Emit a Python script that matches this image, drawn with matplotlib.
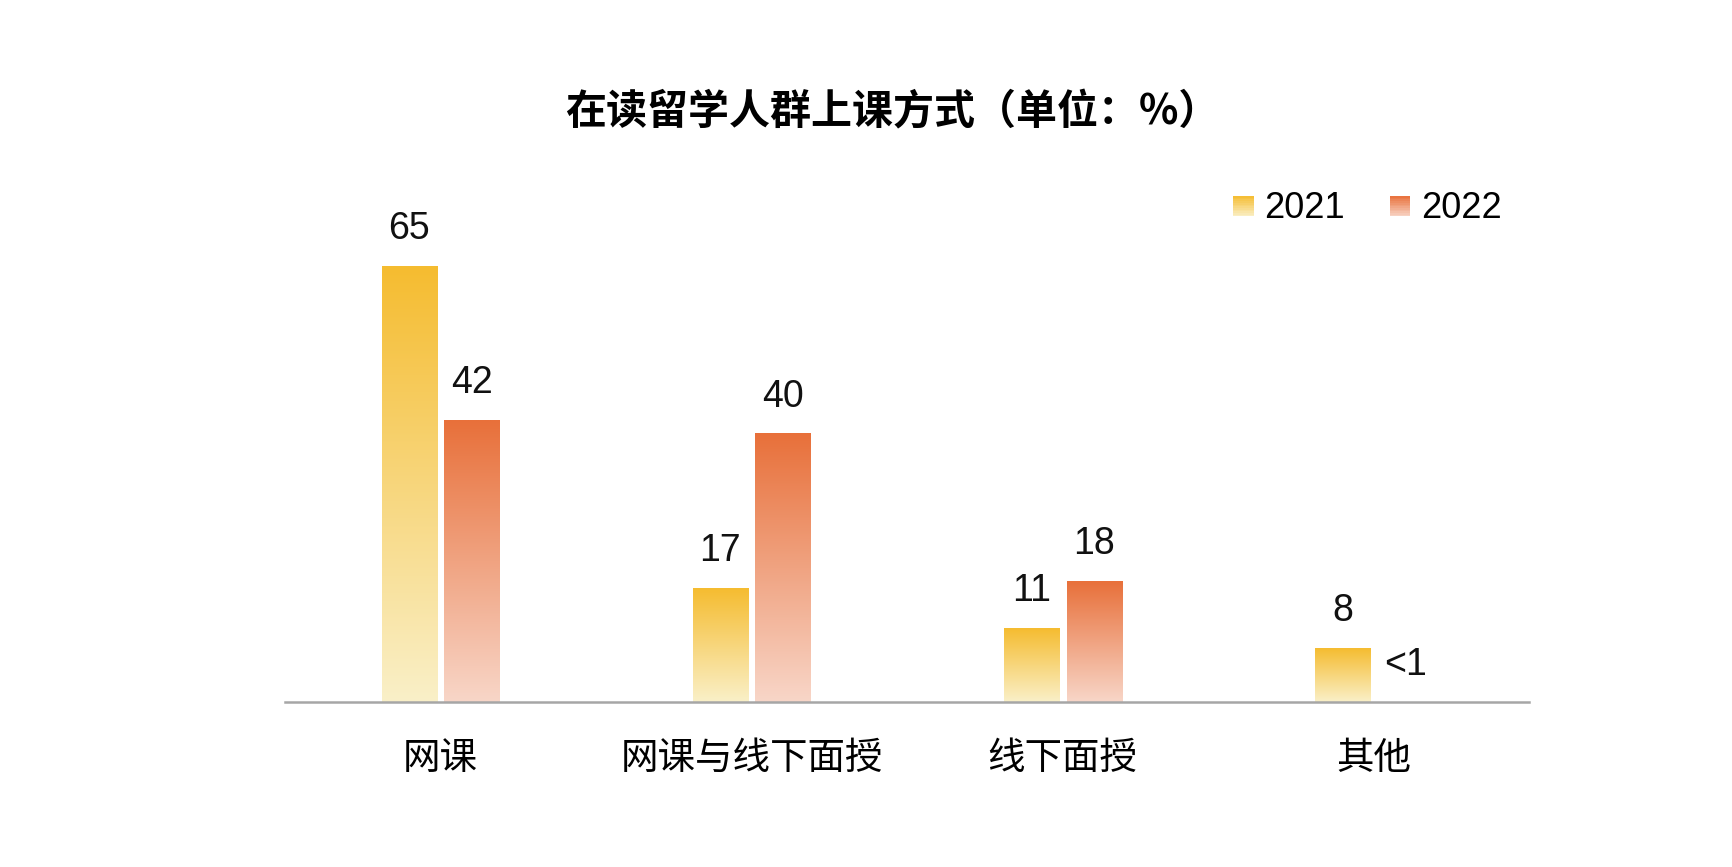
import matplotlib
matplotlib.use("Agg")
import matplotlib.pyplot as plt
import numpy as np
from matplotlib.colors import LinearSegmentedColormap
from matplotlib.patches import Rectangle
from matplotlib.legend_handler import HandlerPatch

plt.rcParams['font.family'] = ['Liberation Sans', 'Noto Sans CJK SC', 'DejaVu Sans']

categories = ['网课', '网课与线下面授', '线下面授', '其他']
series = ['2021', '2022']
values_2021 = [65, 17, 11, 8]
values_2022 = [42, 40, 18, 0]
labels_2021 = ['65', '17', '11', '8']
labels_2022 = ['42', '40', '18', '<1']

# top colour, bottom colour of each series' gradient
grad_colors = {
    '2021': ('#F5BC30', '#FAF0C8'),
    '2022': ('#E8703A', '#F8D6C8'),
}


class GradientHandler(HandlerPatch):
    def create_artists(self, legend, orig_handle, xdescent, ydescent,
                       width, height, fontsize, trans):
        top, bot = orig_handle.grad
        cmap = LinearSegmentedColormap.from_list('g', [bot, top])
        size = height * 0.8
        x0 = -xdescent + (width - size) / 2
        y0 = -ydescent + (height - size) / 2 - height * 0.05
        n = 12
        arts = []
        for i in range(n):
            r = Rectangle((x0, y0 + size * i / n), size, size / n + 0.3,
                          facecolor=cmap((i + 0.5) / n), edgecolor='none',
                          transform=trans)
            arts.append(r)
        return arts


fig = plt.figure(figsize=(17.32, 8.67), dpi=100)
ax = fig.add_axes([0.1645, 0.19, 0.7185, 0.6185])

x = np.arange(len(categories))
width = 0.177
offset = 0.101

handles = []
for name, vals, labs, off in [('2021', values_2021, labels_2021, -offset),
                              ('2022', values_2022, labels_2022, offset)]:
    top, bot = grad_colors[name]
    cmap = LinearSegmentedColormap.from_list(name, [bot, top])
    bars = ax.bar(x + off, vals, width, color='none', edgecolor='none')
    grad = np.linspace(0, 1, 256).reshape(-1, 1)
    for b, lab in zip(bars, labs):
        h = b.get_height()
        if h > 0:
            ax.imshow(grad, cmap=cmap, origin='lower', aspect='auto',
                      extent=[b.get_x(), b.get_x() + b.get_width(), 0, h],
                      zorder=2)
        ax.annotate(lab, (b.get_x() + b.get_width() / 2, h),
                    xytext=(0, 27), textcoords='offset points',
                    ha='center', va='center', fontsize=27, color='#111111')
    p = Rectangle((0, 0), 1, 1)
    p.grad = (top, bot)
    handles.append(p)

ax.set_xlim(-0.5, len(categories) - 0.5)
ax.set_ylim(0, 80)
for s in ['top', 'right', 'left']:
    ax.spines[s].set_visible(False)
ax.spines['bottom'].set_color('#A6A6A6')
ax.spines['bottom'].set_linewidth(1.8)
ax.set_yticks([])
ax.set_xticks(x)
ax.set_xticklabels(categories, fontsize=27)
ax.tick_params(axis='x', length=0, pad=28)

ax.legend(handles, series, handler_map={Rectangle: GradientHandler()},
          ncol=2, frameon=False, fontsize=26, loc='center',
          bbox_to_anchor=(0.789, 0.76), bbox_transform=fig.transFigure,
          handlelength=0.65, handletextpad=0.25, columnspacing=1.2)

fig.text(0.515, 0.87, '在读留学人群上课方式（单位：%）', ha='center', va='center',
         fontsize=29.5, fontweight='bold',
         family=['Noto Sans CJK SC', 'DejaVu Sans'])

fig.savefig('out.png', dpi=100)
